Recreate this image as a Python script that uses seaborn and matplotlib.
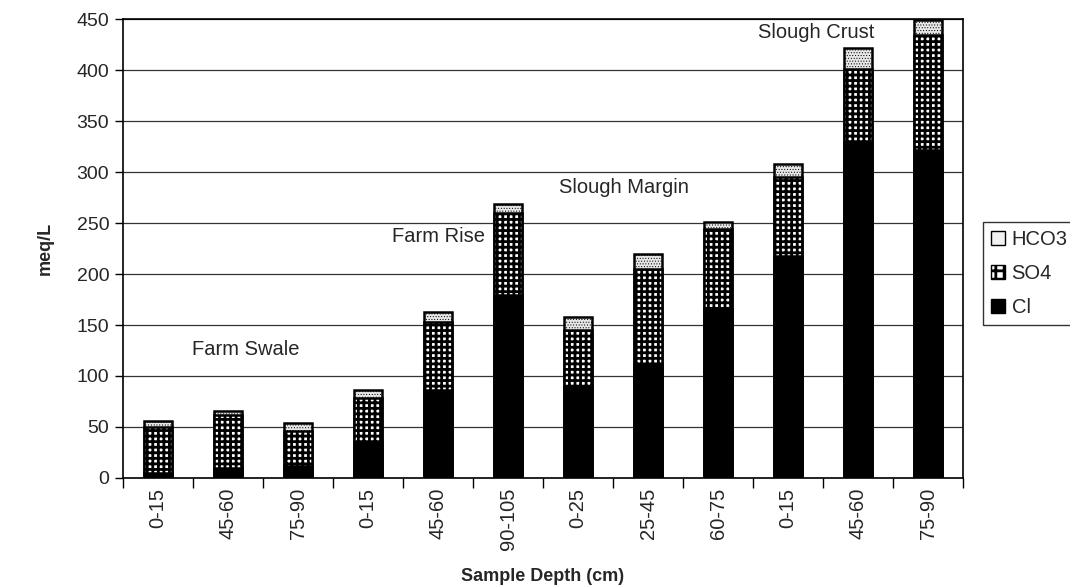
import numpy as np
import pandas as pd
import matplotlib
matplotlib.use("Agg")
import matplotlib.pyplot as plt
import seaborn as sns
from matplotlib.patches import Patch

# sample depths (cm) grouped by landscape position
sample_ids = ["FS 0-15", "FS 45-60", "FS 75-90",
              "FR 0-15", "FR 45-60", "FR 90-105",
              "SM 0-25", "SM 25-45", "SM 60-75",
              "SC 0-15", "SC 45-60", "SC 75-90"]
depths = ["0-15", "45-60", "75-90", "0-15", "45-60", "90-105",
          "0-25", "25-45", "60-75", "0-15", "45-60", "75-90"]

# anion concentrations, meq/L
cl = [5, 10, 12, 35, 86, 179, 90, 112, 166, 218, 329, 322]
so4 = [45, 52, 34, 43, 67, 81, 55, 93, 78, 77, 72, 113]
hco3 = [6, 4, 8, 8, 10, 9, 13, 15, 7, 13, 21, 14]

zone_labels = ["Farm Swale", "Farm Rise", "Slough Margin", "Slough Crust"]
zone_x = [1.25, 4.0, 6.65, 9.4]
zone_y = [126, 237, 285, 437]


def main():
    df = pd.DataFrame({"sample": sample_ids, "Cl": cl, "SO4": so4, "HCO3": hco3})
    df["Cl_SO4"] = df["Cl"] + df["SO4"]
    df["Total"] = df["Cl_SO4"] + df["HCO3"]

    sns.set_theme(style="white")
    plt.rcParams["font.family"] = ["Liberation Sans", "DejaVu Sans"]
    plt.rcParams["hatch.linewidth"] = 2.0

    fig = plt.figure(figsize=(10.7, 5.87), dpi=100)
    ax = fig.add_axes([0.115, 0.186, 0.785, 0.781])

    ax.yaxis.grid(True, color="#333333", linewidth=0.9)
    ax.set_axisbelow(True)

    bar_kw = dict(x="sample", order=sample_ids, width=0.41, errorbar=None,
                  edgecolor="black", linewidth=1.8, ax=ax, saturation=1)
    # stacked by overlaying cumulative totals
    sns.barplot(data=df, y="Total", color="#e6e6e6", hatch="......", **bar_kw)
    n = len(sample_ids)
    for p in ax.patches[:n]:
        if hasattr(p, "set_hatch_linewidth"):
            p.set_hatch_linewidth(0.4)
    sns.barplot(data=df, y="Cl_SO4", color="white", hatch="+++", **bar_kw)
    sns.barplot(data=df, y="Cl", color="black", **bar_kw)

    ax.set_ylim(0, 450)
    ax.set_yticks(np.arange(0, 451, 50))
    ax.set_xlim(-0.5, n - 0.5)
    ax.set_xticks(range(n))
    ax.set_xticklabels(depths, rotation=90)
    ax.set_xticks(np.arange(-0.5, n, 1.0), minor=True)
    ax.tick_params(axis="x", which="major", length=0, labelsize=14.5, pad=7)
    ax.tick_params(axis="x", which="minor", length=7, width=1, color="black",
                   direction="out", bottom=True)
    ax.tick_params(axis="y", which="major", length=6, width=1, color="black",
                   direction="out", left=True, labelsize=14, pad=4)

    for sp in ax.spines.values():
        sp.set_color("black")
        sp.set_linewidth(1.2)

    ax.set_xlabel("Sample Depth (cm)", fontsize=13, fontweight="bold")
    ax.xaxis.set_label_coords(0.5, -0.196)
    ax.set_ylabel("meq/L", fontsize=13, fontweight="bold", labelpad=16)

    for lab, x, y in zip(zone_labels, zone_x, zone_y):
        ax.text(x, y, lab, ha="center", va="center", fontsize=14.5)

    handles = [
        Patch(facecolor="#f2f2f2", edgecolor="black", linewidth=1, label="HCO3"),
        Patch(facecolor="white", edgecolor="black", hatch="++", label="SO4"),
        Patch(facecolor="black", edgecolor="black", label="Cl"),
    ]
    fig.legend(handles=handles, loc="upper left", bbox_to_anchor=(0.919, 0.622),
               frameon=True, fancybox=False, edgecolor="black", fontsize=14.5,
               handlelength=0.7, handleheight=0.7, handletextpad=0.3,
               labelspacing=0.75, borderpad=0.4, borderaxespad=0)

    fig.savefig("out.png", dpi=100)
    plt.close(fig)


if __name__ == "__main__":
    main()
